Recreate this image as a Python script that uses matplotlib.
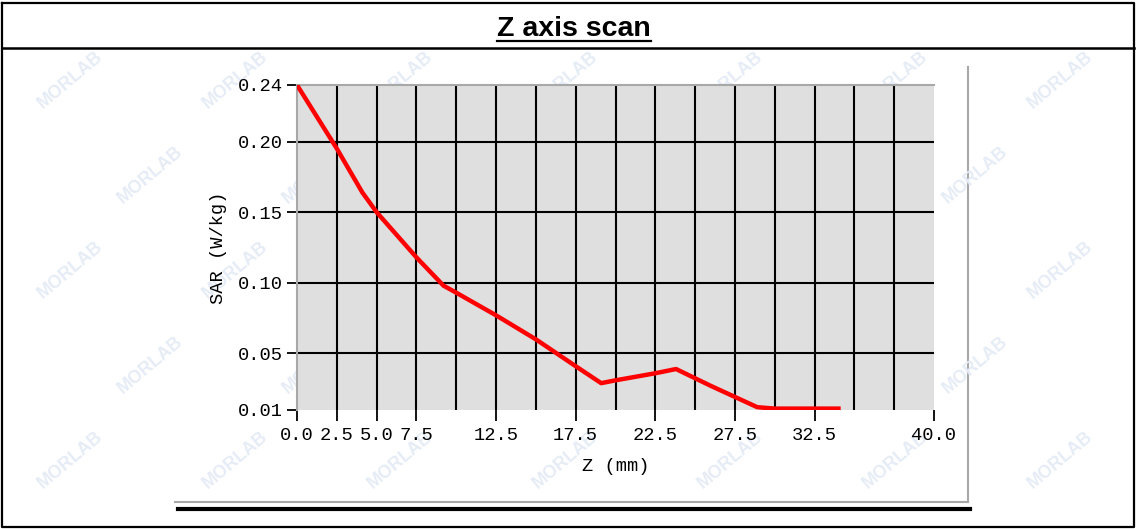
import numpy as np
import matplotlib
matplotlib.use("Agg")
import matplotlib.pyplot as plt

# data
z_mm = [0.0, 2.5, 4.1, 5.0, 7.5, 9.2, 10.0, 12.5, 15.0, 17.5, 19.1,
        20.0, 22.5, 23.8, 26.0, 28.9, 30.0, 34.0]
sar = [0.240, 0.195, 0.164, 0.150, 0.118, 0.098, 0.093, 0.077, 0.060,
       0.041, 0.029, 0.031, 0.036, 0.039, 0.027, 0.012, 0.011, 0.011]

x_ticks = [0.0, 2.5, 5.0, 7.5, 12.5, 17.5, 22.5, 27.5, 32.5, 40.0]
x_labels = ["0.0", "2.5", "5.0", "7.5", "12.5", "17.5", "22.5", "27.5", "32.5", "40.0"]
y_ticks = [0.01, 0.05, 0.10, 0.15, 0.20, 0.24]
y_labels = ["0.01", "0.05", "0.10", "0.15", "0.20", "0.24"]
x_grid = np.arange(2.5, 40.0, 2.5)
y_grid = [0.05, 0.10, 0.15, 0.20]

title = "Z axis scan"
mono = "Liberation Mono"

W, H = 1136, 529
fig = plt.figure(figsize=(W / 100, H / 100), dpi=100)

# background layer in pixel coords for the table frame and panel edges
bg = fig.add_axes([0, 0, 1, 1], zorder=0)
bg.set_xlim(0, W)
bg.set_ylim(H, 0)
bg.axis("off")

# faint watermark tiles, kept inside the frame
for j in range(5):
    for i in range(7):
        wx = 70 + 165 * i + (j % 2) * 80
        wy = 80 + 95 * j
        if wx > W - 60:
            continue
        bg.text(wx, wy, "MORLAB", rotation=40, color="#e6ecf6",
                fontsize=13, fontweight="bold", ha="center", va="center",
                family="Liberation Sans")

# table frame
bg.plot([2, W - 2, W - 2, 2, 2], [3, 3, H - 2, H - 2, 3], color="black", lw=1.6)
bg.plot([2, W - 2], [48, 48], color="black", lw=1.8)

# chart panel edges and thick rule under it
bg.plot([968, 968], [67, 502], color="#a8a8a8", lw=1.5)
bg.plot([175, 968], [502, 502], color="#a8a8a8", lw=1.5)
bg.plot([178, 970], [508.5, 508.5], color="black", lw=3)

# title with underline
t = bg.text(574, 36, title, ha="center", va="baseline", fontsize=20.5,
            fontweight="bold", family="Liberation Sans")
fig.canvas.draw()
bb = t.get_window_extent().transformed(bg.transData.inverted())
bg.plot([bb.x0, bb.x1], [40.5, 40.5], color="black", lw=1.6)

# main plot
ax = fig.add_axes([297 / W, 1 - 410 / H, (934 - 297) / W, (410 - 85) / H], zorder=1)
ax.set_facecolor("#dfdfdf")
ax.set_xlim(0, 40)
ax.set_ylim(0.01, 0.24)

for gx in x_grid:
    ax.axvline(gx, color="black", lw=1.5, zorder=1)
for gy in y_grid:
    ax.axhline(gy, color="black", lw=1.5, zorder=1)

ax.plot(z_mm, sar, color="#ff0000", lw=3.2, zorder=3, solid_joinstyle="round")

for side in ["right", "bottom"]:
    ax.spines[side].set_visible(False)
for side in ["left", "top"]:
    ax.spines[side].set_color("#a8a8a8")
    ax.spines[side].set_linewidth(1.5)

ax.set_xticks(x_ticks)
ax.set_xticklabels(x_labels, family=mono, fontsize=13.5)
ax.set_yticks(y_ticks)
ax.set_yticklabels(y_labels, family=mono, fontsize=13.5)
ax.tick_params(axis="x", direction="out", length=8, width=1.3, pad=4, color="black")
ax.tick_params(axis="y", direction="out", length=7, width=1.3, pad=3, color="black")

ax.set_xlabel("Z (mm)", family=mono, fontsize=13.5, labelpad=10)
ax.set_ylabel("SAR (W/kg)", family=mono, fontsize=13.5, labelpad=8)

fig.savefig("out.png", dpi=100)
